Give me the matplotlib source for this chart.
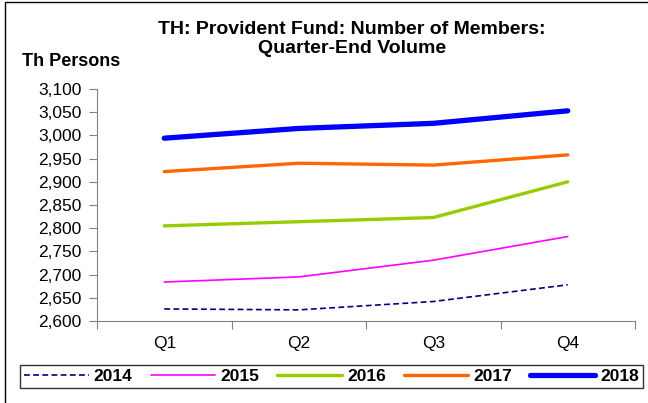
import matplotlib.pyplot as plt
from matplotlib.patches import Rectangle

plt.rcParams['font.family'] = ['Liberation Sans', 'DejaVu Sans']

quarters = ['Q1', 'Q2', 'Q3', 'Q4']
years = ['2014', '2015', '2016', '2017', '2018']

# Th persons, quarter-end
members_2014 = [2626, 2624, 2642, 2678]
members_2015 = [2684, 2695, 2731, 2782]
members_2016 = [2805, 2814, 2823, 2900]
members_2017 = [2922, 2940, 2936, 2958]
members_2018 = [2994, 3015, 3026, 3053]

series = [members_2014, members_2015, members_2016, members_2017, members_2018]
colors = ['#000080', '#FF00FF', '#99CC00', '#FF6600', '#0000FF']
widths = [1.2, 1.2, 2.4, 2.4, 3.8]
styles = ['--', '-', '-', '-', '-']

fig = plt.figure(figsize=(6.48, 4.03), dpi=100)
ax = fig.add_axes([97 / 648, 1 - 321 / 403, 538 / 648, 232 / 403])

x = list(range(len(quarters)))
lines = []
for vals, c, lw, ls, yr in zip(series, colors, widths, styles, years):
    ln, = ax.plot(x, vals, color=c, lw=lw, ls=ls, label=yr,
                  solid_capstyle='round', dash_capstyle='butt')
    lines.append(ln)
lines[0].set_dashes((3.5, 2))

ax.set_xlim(-0.5, 3.5)
ax.set_ylim(2600, 3100)
ax.set_yticks(range(2600, 3101, 50))
ax.set_yticklabels([f'{v:,}' for v in range(2600, 3101, 50)])
ax.set_xticks([-0.5, 0.5, 1.5, 2.5, 3.5])
ax.set_xticklabels([])
ax.set_xticks(x, minor=True)
ax.set_xticklabels(quarters, minor=True)
ax.tick_params(axis='x', which='minor', length=0, pad=11, labelsize=12.5)
ax.tick_params(axis='x', which='major', length=6, color='#808080')
ax.tick_params(axis='y', length=6, color='#808080', labelsize=12.5, pad=5)

for s in ['top', 'right']:
    ax.spines[s].set_visible(False)
for s in ['left', 'bottom']:
    ax.spines[s].set_color('#808080')

fig.text(352 / 648, 1 - 39 / 403, 'TH: Provident Fund: Number of Members:\nQuarter-End Volume',
         ha='center', va='center', fontsize=14, fontweight='bold', linespacing=1.2)
fig.text(22 / 648, 1 - 61 / 403, 'Th Persons', ha='left', va='center',
         fontsize=13, fontweight='bold')

leg = fig.legend(handles=lines, loc='center', ncol=5, mode='expand',
                 bbox_to_anchor=(20 / 648, 1 - 389 / 403, 623 / 648, 25 / 403),
                 prop={'weight': 'bold', 'size': 12.5}, frameon=True, fancybox=False,
                 handlelength=3.7, handletextpad=0.3, columnspacing=0.6,
                 borderpad=0.25, borderaxespad=0, edgecolor='black')
leg.get_frame().set_linewidth(1.0)

# outer chart border
fig.patches.append(Rectangle((5 / 648, -0.1), 1.2, 1 - 2 / 403 + 0.1,
                             transform=fig.transFigure, fill=False,
                             edgecolor='black', lw=1.0))

fig.savefig('out.png', dpi=100)
